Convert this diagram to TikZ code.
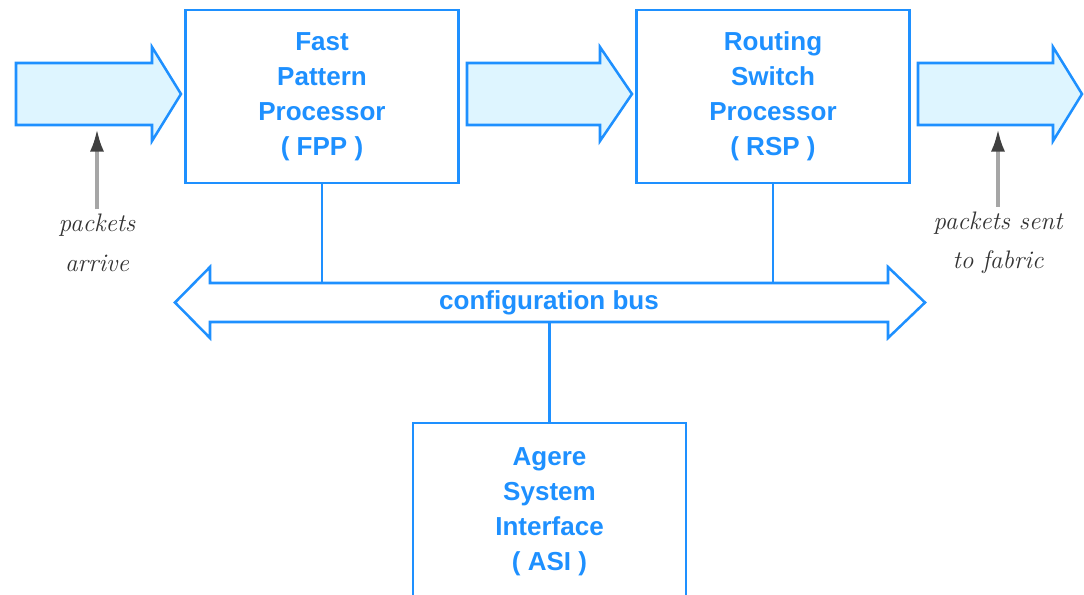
\documentclass[tikz,border=0pt]{standalone}
\usepackage{fontspec}
\setsansfont{Liberation Sans}
\usetikzlibrary{arrows.meta}
\definecolor{busblue}{RGB}{30,144,255}
\definecolor{pipefill}{RGB}{222,245,255}
\tikzstyle{unit}=[draw=busblue,line width=1.8pt,text=busblue,align=center,
  font=\sffamily\bfseries\fontsize{18.5}{24.8}\selectfont,
  minimum width=6.825cm,minimum height=4.325cm,inner sep=0pt]
\tikzstyle{pipe}=[draw=busblue,line width=1.8pt,fill=pipefill,line join=miter]
\tikzstyle{wire}=[busblue,line width=1.8pt]
\tikzstyle{note}=[font=\itshape\fontsize{18}{28}\selectfont,text=black!80,align=center]
\tikzstyle{pointer}=[black!35,line width=2.6pt,-{Latex[length=16pt,width=10pt,color=black!75]}]
% fat data-path arrow: tail x, head base x, tip x
\newcommand{\fatarrow}[3]{%
  \draw[pipe] (#1,63) -- (#2,63) -- (#2,47) -- (#3,94) -- (#2,141)
    -- (#2,125) -- (#1,125) -- cycle;}

\begin{document}
\begin{tikzpicture}[x=0.025cm,y=-0.025cm]
\useasboundingbox (0,0) rectangle (1084,594);

% packet path
\fatarrow{16}{152}{181}
\fatarrow{467}{600}{632}
\fatarrow{918}{1053}{1082}

\node[unit] (fpp) at (322,96.5) {Fast\\Pattern\\Processor\\( FPP )};
\node[unit] (rsp) at (773,96.5) {Routing\\Switch\\Processor\\( RSP )};
\node[unit,minimum height=4.45cm] (asi) at (549.5,512) {Agere\\System\\Interface\\( ASI )};

% configuration bus
\draw[pipe,fill=white] (210,283) -- (888,283) -- (888,267) -- (925,302.5)
      -- (888,338) -- (888,322) -- (210,322) -- (210,338) -- (175,302.5)
      -- (210,267) -- cycle;
\node[text=busblue,font=\sffamily\bfseries\fontsize{18.5}{22}\selectfont] (bus) at (549,302.5) {configuration bus};
\coordinate (bustop) at (0,283);
\coordinate (busbot) at (0,322);

\draw[wire] (fpp.south) -- (fpp.south |- bustop);
\draw[wire] (rsp.south) -- (rsp.south |- bustop);
\draw[wire] (asi.north) -- (asi.north |- busbot);

% labels under the in/out arrows
\node[note] (arrive) at (97,243) {packets\\arrive};
\node[note] (sent) at (998,243) {packets sent\\to fabric};
\coordinate (inlet) at (97,129);
\coordinate (outlet) at (998,129);
\draw[pointer] (arrive.north) -- (inlet);
\draw[pointer] (sent.north) -- (outlet);
\end{tikzpicture}
\end{document}
